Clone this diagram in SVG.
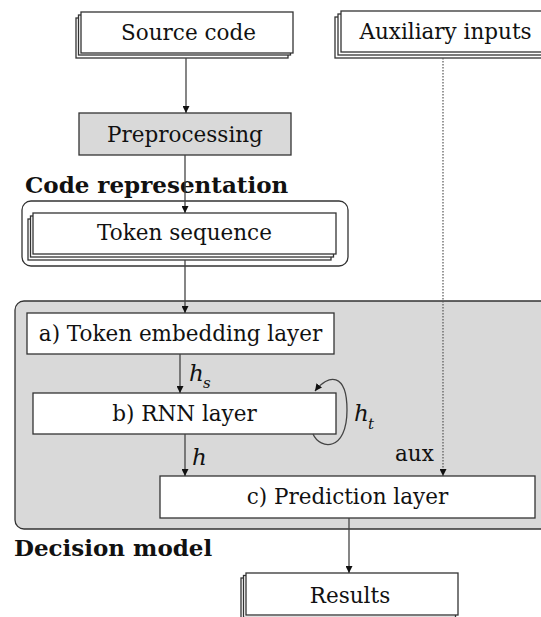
<svg xmlns="http://www.w3.org/2000/svg" width="541" height="617" viewBox="0 0 541 617">
<defs>
<marker id="ah" viewBox="0 0 10 10" refX="10" refY="5" markerWidth="7" markerHeight="7" markerUnits="userSpaceOnUse" orient="auto">
<path d="M0,0 L10,5 L0,10 z" fill="#111"/>
</marker>
</defs>
<style>
.box{fill:#fff;stroke:#333;stroke-width:1.3}
.gbox{fill:#d9d9d9;stroke:#333;stroke-width:1.3}
.wrap{fill:#fff;stroke:#333;stroke-width:1.3}
.t{font-family:"DejaVu Serif",serif;font-size:21.5px;fill:#111;text-anchor:middle}
.b{font-family:"DejaVu Serif",serif;font-size:23px;font-weight:bold;fill:#111}
.m{font-family:"DejaVu Serif",serif;font-size:23px;font-style:italic;fill:#111}
.s{font-family:"DejaVu Serif",serif;font-size:15px;font-style:italic;fill:#111}
.c{fill:none;stroke:#444;stroke-width:1.3}
.d{fill:none;stroke:#555;stroke-width:1.2;stroke-dasharray:1.5 1.5}
</style>
<g id="decision-model">
<rect x="15" y="301" width="540" height="228" rx="9" class="gbox"/>
<text x="14" y="556" class="b">Decision model</text>
</g>
<g id="code-representation">
<rect x="22" y="201" width="326" height="65" rx="9" class="wrap"/>
<text x="25" y="193" class="b">Code representation</text>
</g>
<g id="source-code">
<rect x="76" y="18" width="212" height="40" class="box"/>
<rect x="78.5" y="15" width="212" height="40" class="box"/>
<rect x="81" y="12" width="212" height="41" class="box"/>
<text x="188.5" y="40" class="t">Source code</text>
</g>
<g id="auxiliary-inputs">
<rect x="335" y="17" width="210" height="41" class="box"/>
<rect x="338" y="14" width="210" height="41" class="box"/>
<rect x="341" y="11" width="210" height="41" class="box"/>
<text x="445.5" y="39" class="t">Auxiliary inputs</text>
</g>
<g id="preprocessing">
<rect x="79" y="113" width="212" height="42" class="gbox"/>
<text x="185" y="142" class="t">Preprocessing</text>
</g>
<g id="token-sequence">
<rect x="28" y="219" width="303" height="41" class="box"/>
<rect x="30.5" y="216" width="303" height="41" class="box"/>
<rect x="33" y="213" width="303" height="41" class="box"/>
<text x="184.5" y="240" class="t">Token sequence</text>
</g>
<g id="token-embedding">
<rect x="27" y="313" width="307" height="41" class="box"/>
<text x="180.5" y="341" class="t">a) Token embedding layer</text>
</g>
<g id="rnn-layer">
<rect x="33" y="393" width="303" height="41" class="box"/>
<text x="184.5" y="421" class="t">b) RNN layer</text>
</g>
<g id="prediction-layer">
<rect x="160" y="476" width="375" height="42" class="box"/>
<text x="347.5" y="504" class="t">c) Prediction layer</text>
</g>
<g id="results">
<rect x="241" y="578" width="212" height="42" class="box"/>
<rect x="243.5" y="575.5" width="212" height="42" class="box"/>
<rect x="246" y="573" width="212" height="42" class="box"/>
<text x="350" y="603" class="t">Results</text>
</g>
<g id="connectors">
<line x1="186" y1="58" x2="186" y2="113" class="c" marker-end="url(#ah)"/>
<line x1="185" y1="155" x2="185" y2="213" class="c" marker-end="url(#ah)"/>
<line x1="185" y1="260" x2="185" y2="313" class="c" marker-end="url(#ah)"/>
<line x1="180" y1="354" x2="180" y2="393" class="c" marker-end="url(#ah)"/>
<line x1="185" y1="434" x2="185" y2="476" class="c" marker-end="url(#ah)"/>
<line x1="443" y1="58" x2="443" y2="476" class="d" marker-end="url(#ah)"/>
<line x1="349" y1="518" x2="349" y2="573" class="c" marker-end="url(#ah)"/>
<path d="M313,434 C320,450 347,452 347,410 C347,372 328,374 315,391" class="c" marker-end="url(#ah)"/>
<text x="189" y="381" class="m">h</text><text x="203" y="388" class="s">s</text>
<text x="354" y="421" class="m">h</text><text x="368" y="429" class="s">t</text>
<text x="192" y="465" class="m">h</text>
<text x="395" y="461" class="t" style="text-anchor:start">aux</text>
</g>
</svg>
